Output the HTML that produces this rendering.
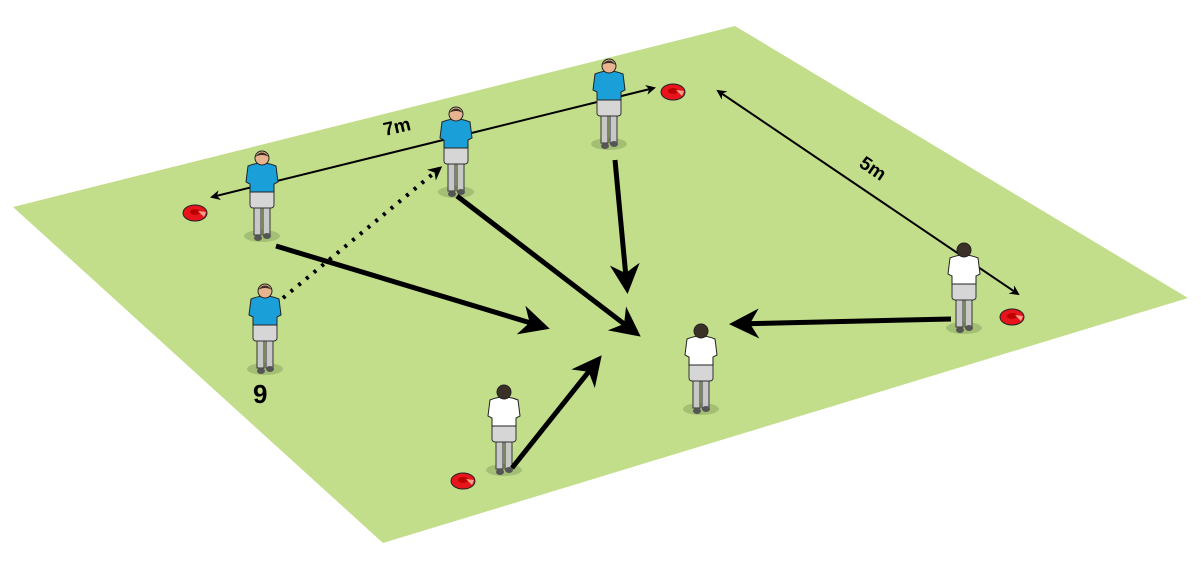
<!DOCTYPE html>
<html><head><style>body{margin:0;background:#fff}svg{display:block}</style></head><body>
<svg width="1201" height="568" viewBox="0 0 1201 568" xmlns="http://www.w3.org/2000/svg">
<defs>
<marker id="ab" viewBox="0 0 10 10" refX="8" refY="5" markerWidth="5" markerHeight="5" orient="auto-start-reverse"><path d="M0,0 L10,5 L0,10 L3,5 Z" fill="#000"/></marker>
<marker id="at" viewBox="0 0 10 10" refX="8" refY="5" markerWidth="3.5" markerHeight="3.5" orient="auto-start-reverse"><path d="M0,0 L10,5 L0,10 L3,5 Z" fill="#000"/></marker>
<marker id="abig" viewBox="0 0 10 10" refX="8" refY="5" markerWidth="6" markerHeight="6" orient="auto"><path d="M0,0 L10,5 L0,10 L3,5 Z" fill="#000"/></marker>
<g id="pb">
<ellipse cx="20" cy="86" rx="18" ry="6" fill="#a3bf74"/>
<rect x="12" y="55" width="7" height="30" fill="#c8c8c8" stroke="#333" stroke-width="1"/>
<rect x="21" y="55" width="7" height="30" fill="#c8c8c8" stroke="#333" stroke-width="1"/>
<ellipse cx="16" cy="88" rx="4" ry="3" fill="#555"/><ellipse cx="25" cy="86" rx="4" ry="3" fill="#555"/>
<rect x="8" y="38" width="24" height="20" rx="3" fill="#d6d6d6" stroke="#333" stroke-width="1"/>
<path d="M6,16 Q20,10 34,16 L36,32 L32,34 L32,42 L8,42 L8,34 L4,32 Z" fill="#1b9fd8" stroke="#222" stroke-width="1"/>
<circle cx="20" cy="8" r="7" fill="#e8b48f" stroke="#222" stroke-width="1"/>
<path d="M13,7 Q20,-2 27,7 Q20,3 13,7Z" fill="#3a3026"/>
</g>
<g id="pw">
<ellipse cx="20" cy="86" rx="18" ry="6" fill="#a3bf74"/>
<rect x="12" y="55" width="7" height="30" fill="#c8c8c8" stroke="#333" stroke-width="1"/>
<rect x="21" y="55" width="7" height="30" fill="#c8c8c8" stroke="#333" stroke-width="1"/>
<ellipse cx="16" cy="88" rx="4" ry="3" fill="#555"/><ellipse cx="25" cy="86" rx="4" ry="3" fill="#555"/>
<rect x="8" y="38" width="24" height="20" rx="3" fill="#d6d6d6" stroke="#333" stroke-width="1"/>
<path d="M6,16 Q20,10 34,16 L36,32 L32,34 L32,42 L8,42 L8,34 L4,32 Z" fill="#fff" stroke="#222" stroke-width="1"/>
<circle cx="20" cy="8" r="7" fill="#3a3026" stroke="#222" stroke-width="1"/>
</g>
<g id="cone"><ellipse cx="0" cy="0" rx="12" ry="8" fill="#e8141c" stroke="#222" stroke-width="1"/><ellipse cx="0" cy="-1" rx="5" ry="3" fill="#b00"/><path d="M3,-2 L11,-1 L9,4 Z" fill="#f5a08a"/></g>
</defs>
<polygon points="13,207 735,26 1188,298 383,543" fill="#c2de8a"/>
<use href="#cone" x="195" y="213"/><use href="#cone" x="673" y="92"/><use href="#cone" x="1012" y="317"/><use href="#cone" x="463" y="481"/>
<line x1="212" y1="197" x2="654" y2="88" stroke="#000" stroke-width="2" marker-start="url(#ab)" marker-end="url(#ab)"/>
<line x1="718" y1="91" x2="1018" y2="294" stroke="#000" stroke-width="2" marker-start="url(#ab)" marker-end="url(#ab)"/>
<text x="385" y="136" font-family="Liberation Sans, sans-serif" font-size="19" font-weight="bold" transform="rotate(-13 385 136)">7m</text>
<text x="858" y="166" font-family="Liberation Sans, sans-serif" font-size="19" font-weight="bold" transform="rotate(34 858 166)">5m</text>
<use href="#pb" x="242" y="150"/>
<use href="#pb" x="436" y="106"/>
<use href="#pb" x="589" y="58"/>
<use href="#pb" x="245" y="283"/>
<use href="#pw" x="484" y="384"/>
<use href="#pw" x="681" y="323"/>
<use href="#pw" x="944" y="242"/>
<line x1="283" y1="298" x2="440" y2="168" stroke="#000" stroke-width="4" stroke-dasharray="3,7" marker-end="url(#at)"/>
<g stroke="#000" stroke-width="5" fill="none">
<line x1="276" y1="246" x2="544" y2="327" marker-end="url(#abig)"/>
<line x1="457" y1="196" x2="636" y2="333" marker-end="url(#abig)"/>
<line x1="615" y1="160" x2="627" y2="288" marker-end="url(#abig)"/>
<line x1="512" y1="468" x2="598" y2="360" marker-end="url(#abig)"/>
<line x1="951" y1="319" x2="735" y2="324" marker-end="url(#abig)"/>
</g>
<text x="253" y="403" font-family="Liberation Sans, sans-serif" font-size="26" font-weight="bold">9</text>
</svg>
</body></html>
